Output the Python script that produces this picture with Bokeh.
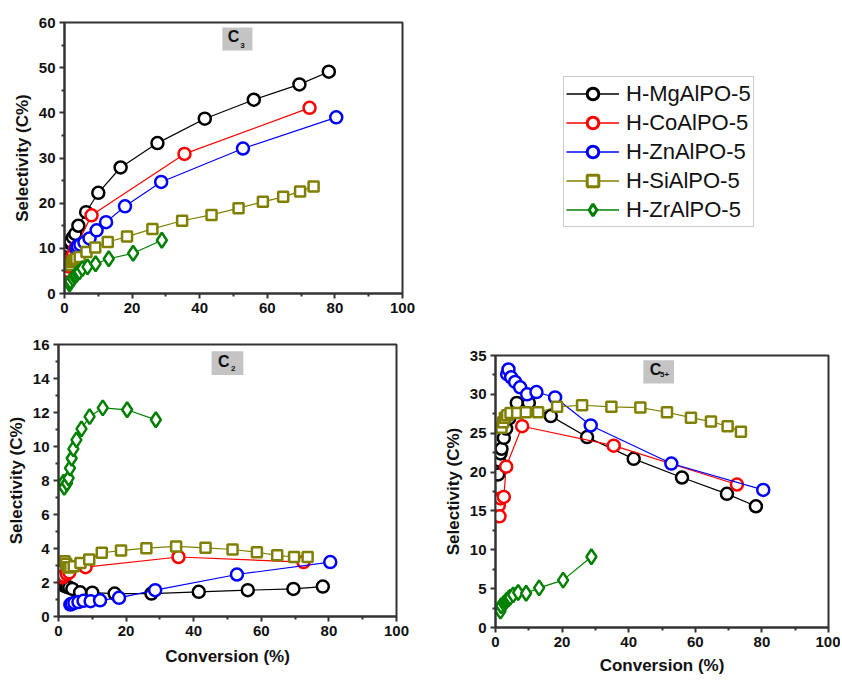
from bokeh.plotting import figure
from bokeh.layouts import column, row
from bokeh.models import (ColumnDataSource, Legend, LegendItem, BoxAnnotation,
                          Label, Range1d, FixedTicker, Spacer)
from bokeh.embed import file_html
from bokeh.resources import INLINE

# ---------------- data ----------------
names = ["H-MgAlPO-5", "H-CoAlPO-5", "H-ZnAlPO-5", "H-SiAlPO-5", "H-ZrAlPO-5"]
colors = ["#000000", "#ff0000", "#0000ff", "#808000", "#008000"]
markers = ["circle", "circle", "circle", "square", "diamond"]

mg_x = [0.8, 1.0, 1.5, 1.8, 2.5, 3.2, 4.1, 6.4, 10.0, 16.6, 27.5, 41.5, 56.0, 69.5, 78.2]
mg_c3 = [10.0, 10.5, 11.2, 11.5, 12.4, 13.2, 15.0, 18.0, 22.3, 27.9, 33.3, 38.7, 42.9, 46.3, 49.1]
mg_c2 = [2.0, 1.95, 1.85, 1.8, 1.75, 1.7, 1.62, 1.42, 1.40, 1.35, 1.35, 1.45, 1.55, 1.62, 1.76]
mg_c5 = [19.7, 21.5, 22.4, 23.0, 24.4, 25.6, 26.9, 28.9, 28.9, 27.2, 24.5, 21.7, 19.3, 17.2, 15.6]

co_x = [1.0, 1.2, 1.5, 2.5, 3.2, 8.0, 35.5, 72.5]
co_c3 = [5.0, 6.0, 7.0, 8.5, 10.0, 17.3, 30.9, 41.1]
co_c2 = [2.7, 2.3, 2.4, 2.5, 2.6, 2.9, 3.5, 3.2]
co_c5 = [15.7, 14.3, 16.6, 16.8, 20.7, 25.9, 23.4, 18.4]

zn_x = [3.5, 3.9, 4.7, 5.9, 7.4, 9.5, 12.3, 17.9, 28.6, 52.8, 80.4]
zn_c3 = [10.0, 10.5, 10.8, 11.3, 12.2, 14.0, 15.8, 19.3, 24.7, 32.1, 39.0]
zn_c2 = [0.7, 0.75, 0.8, 0.85, 0.92, 0.9, 0.95, 1.1, 1.55, 2.47, 3.2]
zn_c5 = [32.6, 33.2, 32.2, 31.6, 30.9, 30.0, 30.3, 29.6, 26.0, 21.1, 17.7]

si_x = [1.8, 2.3, 2.8, 3.5, 4.5, 6.5, 9.1, 12.8, 18.5, 26.0, 34.8, 43.5, 51.5, 58.7, 64.7, 69.7, 73.7]
si_c3 = [6.3, 7.0, 7.4, 7.7, 8.1, 9.2, 10.2, 11.4, 12.6, 14.3, 16.1, 17.4, 18.9, 20.3, 21.4, 22.6, 23.7]
si_c2 = [3.25, 3.1, 2.9, 2.9, 2.95, 3.15, 3.35, 3.75, 3.88, 4.02, 4.12, 4.04, 3.94, 3.78, 3.6, 3.5, 3.5]
si_c5 = [25.7, 26.4, 27.0, 27.3, 27.6, 27.6, 27.7, 27.7, 28.4, 28.6, 28.4, 28.3, 27.7, 27.0, 26.5, 25.9, 25.2]

zr_x = [1.5, 1.7, 2.5, 3.0, 3.4, 3.9, 4.4, 5.3, 6.8, 9.2, 13.1, 20.3, 28.8]
zr_c3 = [2.1, 2.7, 3.3, 3.8, 4.1, 4.5, 4.8, 5.5, 5.9, 6.6, 7.7, 8.9, 11.8]
zr_c2 = [7.9, 7.6, 7.84, 8.14, 8.73, 9.31, 9.86, 10.39, 11.04, 11.76, 12.27, 12.16, 11.57]
zr_c5 = [2.1, 2.8, 3.1, 3.3, 3.5, 3.7, 3.9, 4.2, 4.5, 4.4, 5.1, 6.1, 9.1]

x_ticks = [0, 20, 40, 60, 80, 100]
c3_ticks = [0, 10, 20, 30, 40, 50, 60]
c2_ticks = [0, 2, 4, 6, 8, 10, 12, 14, 16]
c5_ticks = [0, 5, 10, 15, 20, 25, 30, 35]

xs = [mg_x, co_x, zn_x, si_x, zr_x]
c3 = [mg_c3, co_c3, zn_c3, si_c3, zr_c3]
c2 = [mg_c2, co_c2, zn_c2, si_c2, zr_c2]
c5 = [mg_c5, co_c5, zn_c5, si_c5, zr_c5]

FONT = "Liberation Sans"
AX = "#333333"
msize = {"circle": 12, "square": 10, "diamond": 15}


def minor_of(ticks):
    return [(a + b) / 2 for a, b in zip(ticks[:-1], ticks[1:])]


def panel(width, height, bl, br, bt, bb, yticks, ylabel, xlabel, ys, tag, sub,
          box, cpos, spos, xlab_standoff=8):
    p = figure(width=width, height=height, output_backend="svg",
               toolbar_location=None,
               x_range=Range1d(0, 100), y_range=Range1d(yticks[0], yticks[-1]),
               min_border_left=bl, min_border_right=br,
               min_border_top=bt, min_border_bottom=bb)
    p.grid.visible = False
    p.outline_line_color = AX
    p.outline_line_width = 2
    p.background_fill_color = "white"
    p.border_fill_color = "white"
    p.xaxis.ticker = FixedTicker(ticks=x_ticks, minor_ticks=minor_of(x_ticks))
    p.yaxis.ticker = FixedTicker(ticks=yticks, minor_ticks=minor_of(yticks))
    for ax in (p.xaxis[0], p.yaxis[0]):
        ax.axis_line_color = AX
        ax.axis_line_width = 2
        ax.major_tick_line_color = AX
        ax.major_tick_line_width = 2
        ax.minor_tick_line_color = AX
        ax.minor_tick_line_width = 2
        ax.major_tick_in = 0
        ax.major_tick_out = 5
        ax.minor_tick_in = 0
        ax.minor_tick_out = 3
        ax.major_label_text_font = FONT
        ax.major_label_text_font_style = "bold"
        ax.major_label_text_font_size = "15px"
        ax.major_label_text_color = "#111111"
        ax.major_label_standoff = 4
        ax.axis_label_text_font = FONT
        ax.axis_label_text_font_style = "bold"
        ax.axis_label_text_font_size = "17px"
        ax.axis_label_text_color = "#111111"
    p.yaxis.axis_label = ylabel
    p.yaxis.axis_label_standoff = 4
    if xlabel:
        p.xaxis.axis_label = xlabel
        p.xaxis.axis_label_standoff = xlab_standoff
    for i in range(5):
        src = ColumnDataSource(dict(x=xs[i], y=ys[i]))
        p.line("x", "y", source=src, line_color=colors[i], line_width=1.2)
        p.scatter("x", "y", source=src, marker=markers[i], size=msize[markers[i]],
                  line_color=colors[i], line_width=2.5, fill_color="white")
    p.add_layout(BoxAnnotation(left=box[0], right=box[1], bottom=box[2], top=box[3],
                               fill_color="#c4c4c4", fill_alpha=1.0,
                               line_color=None))
    p.add_layout(Label(x=cpos[0], y=cpos[1], text=tag, text_font=FONT,
                       text_font_style="bold", text_font_size="16px",
                       text_baseline="middle", text_align="left",
                       text_color="#111111"))
    p.add_layout(Label(x=spos[0], y=spos[1], text=sub, text_font=FONT,
                       text_font_style="bold", text_font_size="8px",
                       text_baseline="middle", text_align="left",
                       text_color="#111111"))
    return p


p1 = panel(420, 325, 64, 18, 22, 32, c3_ticks, "Selectivity (C%)", None, c3,
           "C", "3", (46.7, 55.6, 53.8, 58.9), (48.3, 56.8), (52.0, 54.9))
p2 = panel(440, 355, 58, 44, 19, 64, c2_ticks, "Selectivity (C%)", "Conversion (%)", c2,
           "C", "2", (45.3, 54.7, 14.2, 15.6), (47.2, 15.0), (51.0, 14.6),
           xlab_standoff=8)
p3 = panel(400, 344, 50, 12, 19, 53, c5_ticks, "Selectivity (C%)", "Conversion (%)", c5,
           "C", "5+", (44.4, 53.6, 31.4, 34.4), (46.3, 33.2), (49.4, 32.6),
           xlab_standoff=6)

# ---------------- legend panel ----------------
pl = figure(width=420, height=325, output_backend="svg", toolbar_location=None,
            x_range=Range1d(200, 201), y_range=Range1d(200, 201),
            x_axis_type=None, y_axis_type=None,
            min_border_left=0, min_border_right=0,
            min_border_top=22, min_border_bottom=32)
pl.grid.visible = False
pl.outline_line_color = None
items = []
for i in range(5):
    src = ColumnDataSource(dict(x=xs[i][:1], y=c3[i][:1]))
    lr = pl.line("x", "y", source=src, line_color=colors[i], line_width=1.5)
    sr = pl.scatter("x", "y", source=src, marker=markers[i], line_color=colors[i],
                    line_width=3, fill_color="white", size=12)
    items.append(LegendItem(label=names[i], renderers=[lr, sr]))
leg = Legend(items=items, location=(143, 66), orientation="vertical",
             glyph_width=53, glyph_height=29, label_height=29, spacing=0,
             label_text_font=FONT, label_text_font_size="22px",
             label_text_color="#111111", label_standoff=7,
             padding=2, margin=0,
             border_line_color="#999999", border_line_width=1.5,
             background_fill_color="white", background_fill_alpha=1.0)
pl.add_layout(leg)

layout = column(row(p1, pl), row(p2, column(Spacer(width=400, height=11), p3)))
open("out.html", "w").write(file_html(layout, INLINE))
